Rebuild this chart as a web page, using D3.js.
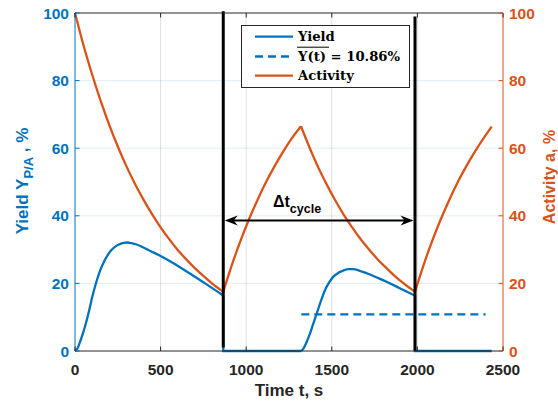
<!DOCTYPE html>
<html><head><meta charset="utf-8">
<script src="https://cdn.jsdelivr.net/npm/d3@7"></script>
<style>body{margin:0;background:#fff}svg{display:block}</style>
</head><body><svg id="c" width="558" height="403"></svg>
<script>
// ---- data ----
const xTicks = [0, 500, 1000, 1500, 2000, 2500];
const yTicks = [0, 20, 40, 60, 80, 100];

const yield1T = [0,15,30,50,68,85,100,115,130,150,170,190,210,235,260,285,305,330,360,400,440,500,560,650,760,866];
const yield1V = [0,0.8,2.8,5.8,9,12.5,15.8,18.7,21.3,24.2,26.5,28.3,29.7,30.9,31.6,32,32.1,31.9,31.5,30.6,29.6,28.1,26.4,23.6,20.0,16.4];
const yieldOff1T = [866, 866, 1322];
const yieldOff1V = [16.4, 0, 0];
const yield2T = [1322,1335,1350,1373,1390,1412,1435,1460,1485,1509,1540,1567,1600,1626,1660,1704,1760,1820,1900,1986];
const yield2V = [0,0.8,2.3,5.2,7.8,11.1,14.6,18,20.3,22,23.2,23.8,24.2,24.2,23.8,23,21.8,20.5,18.5,16.4];
const yieldOff2T = [1986, 1986, 2434];
const yieldOff2V = [16.4, 0, 0];

const meanT = [1322, 2398];
const meanV = [10.86, 10.86];

const actDecay1T = [0,50,100,150,200,250,300,350,400,450,500,550,600,650,700,750,800,866];
const actDecay1V = [100,90.4,81.8,74.0,66.9,60.5,54.7,49.5,44.8,40.5,36.6,33.1,29.9,27.1,24.5,22.2,20.0,17.5];
const actRegen1T = [866,916,966,1016,1066,1116,1166,1216,1266,1320];
const actRegen1V = [17.5,25.4,32.5,38.9,44.7,50.0,54.7,59.0,62.9,66.5];
const actDecay2T = [1320,1370,1420,1470,1520,1570,1620,1670,1720,1770,1820,1870,1920,1986];
const actDecay2V = [66.5,60.2,54.4,49.3,44.6,40.3,36.5,33.0,29.9,27.0,24.5,22.1,20.0,17.5];
const actRegen2T = [1986,2036,2086,2136,2186,2236,2286,2336,2386,2434];
const actRegen2V = [17.5,25.4,32.5,38.9,44.7,50.0,54.7,59.0,62.9,66.4];

const cycleLinesT = [866, 1986];
const cycleLineLo = [1, 0];
const cycleLineHi = [100.5, 99];
const arrowV = 38.6;

const legendLabels = ["Yield", "Y(t) = 10.86%", "Activity"];

// ---- layout ----
const W = 558, H = 403;
const m = {l: 75, r: 55, t: 13, b: 52};
const BLUE = "#0072BD", ORANGE = "#D95319", DARK = "#262626";
const SANS = "Liberation Sans, Arial, sans-serif";
const svg = d3.select("#c");
const x = d3.scaleLinear().domain([0, 2500]).range([m.l, W - m.r]);
const y = d3.scaleLinear().domain([0, 100]).range([H - m.b, m.t]);
const zip = (T, V) => T.map((t, i) => [t, V[i]]);

// grid
svg.append("g").selectAll("line").data(xTicks.slice(1, -1)).join("line")
  .attr("x1", d => x(d)).attr("x2", d => x(d)).attr("y1", y(0)).attr("y2", y(100))
  .attr("stroke", "#262626").attr("stroke-opacity", 0.15).attr("stroke-width", 1);
svg.append("g").selectAll("line").data(yTicks.slice(1, -1)).join("line")
  .attr("x1", x(0)).attr("x2", x(2500)).attr("y1", d => y(d)).attr("y2", d => y(d))
  .attr("stroke", BLUE).attr("stroke-opacity", 0.12).attr("stroke-width", 1);

const curve = d3.line().x(d => x(d[0])).y(d => y(d[1])).curve(d3.curveMonotoneX);
const lin = d3.line().x(d => x(d[0])).y(d => y(d[1]));

// activity
[[actDecay1T, actDecay1V], [actRegen1T, actRegen1V], [actDecay2T, actDecay2V], [actRegen2T, actRegen2V]]
  .forEach(([T, V]) => svg.append("path").attr("d", curve(zip(T, V)))
    .attr("fill", "none").attr("stroke", ORANGE).attr("stroke-width", 2.3));

// yield
[[yield1T, yield1V], [yield2T, yield2V]].forEach(([T, V]) =>
  svg.append("path").attr("d", curve(zip(T, V))).attr("fill", "none")
    .attr("stroke", BLUE).attr("stroke-width", 2.3));
[[yieldOff1T, yieldOff1V], [yieldOff2T, yieldOff2V]].forEach(([T, V]) =>
  svg.append("path").attr("d", lin(zip(T, V))).attr("fill", "none")
    .attr("stroke", BLUE).attr("stroke-width", 2.3));
svg.append("path").attr("d", lin(zip(meanT, meanV))).attr("fill", "none")
  .attr("stroke", BLUE).attr("stroke-width", 2.3).attr("stroke-dasharray", "8,5");

// cycle lines
svg.append("g").selectAll("line").data(cycleLinesT).join("line")
  .attr("x1", d => x(d)).attr("x2", d => x(d))
  .attr("y1", (d, i) => y(cycleLineLo[i])).attr("y2", (d, i) => y(cycleLineHi[i]))
  .attr("stroke", "#000").attr("stroke-width", 3);

// arrow
const ax1 = x(cycleLinesT[0]) + 1.5, ax2 = x(cycleLinesT[1]) - 1.5, ay = y(arrowV);
svg.append("line").attr("x1", ax1 + 4).attr("x2", ax2 - 4).attr("y1", ay).attr("y2", ay)
  .attr("stroke", "#000").attr("stroke-width", 2);
const head = (tx, dir) => `M${tx},${ay} L${tx - dir * 13},${ay - 5} L${tx - dir * 9},${ay} L${tx - dir * 13},${ay + 5} Z`;
svg.append("path").attr("d", head(ax2, 1)).attr("fill", "#000");
svg.append("path").attr("d", head(ax1, -1)).attr("fill", "#000");
const lab = svg.append("text").attr("x", 273).attr("y", 207)
  .attr("font-family", SANS).attr("font-weight", "bold")
  .attr("font-size", 16).attr("fill", "#000");
lab.append("tspan").text("Δt");
lab.append("tspan").attr("font-size", 12.5).attr("dy", 6).text("cycle");

// axes box
svg.append("line").attr("x1", x(0)).attr("x2", x(2500)).attr("y1", y(0)).attr("y2", y(0)).attr("stroke", DARK);
svg.append("line").attr("x1", x(0)).attr("x2", x(2500)).attr("y1", y(100)).attr("y2", y(100)).attr("stroke", DARK);
svg.append("line").attr("x1", x(0)).attr("x2", x(0)).attr("y1", y(0)).attr("y2", y(100)).attr("stroke", BLUE);
svg.append("line").attr("x1", x(2500)).attr("x2", x(2500)).attr("y1", y(0)).attr("y2", y(100)).attr("stroke", ORANGE);

const tl = 4.5;
// x ticks
const gx = svg.append("g");
xTicks.forEach(t => {
  gx.append("line").attr("x1", x(t)).attr("x2", x(t)).attr("y1", y(0)).attr("y2", y(0) - tl).attr("stroke", DARK);
  gx.append("line").attr("x1", x(t)).attr("x2", x(t)).attr("y1", y(100)).attr("y2", y(100) + tl).attr("stroke", DARK);
  gx.append("text").attr("x", x(t)).attr("y", 375).attr("text-anchor", "middle")
    .attr("font-family", SANS).attr("font-weight", "bold")
    .attr("font-size", 15.5).attr("fill", DARK).text(t);
});
// y ticks
yTicks.forEach(v => {
  svg.append("line").attr("x1", x(0)).attr("x2", x(0) + tl).attr("y1", y(v)).attr("y2", y(v)).attr("stroke", BLUE);
  svg.append("line").attr("x1", x(2500)).attr("x2", x(2500) - tl).attr("y1", y(v)).attr("y2", y(v)).attr("stroke", ORANGE);
  svg.append("text").attr("x", x(0) - 6).attr("y", y(v) + 5.5).attr("text-anchor", "end")
    .attr("font-family", SANS).attr("font-weight", "bold")
    .attr("font-size", 15.5).attr("fill", BLUE).text(v);
  svg.append("text").attr("x", x(2500) + 6).attr("y", y(v) + 5.5).attr("text-anchor", "start")
    .attr("font-family", SANS).attr("font-weight", "bold")
    .attr("font-size", 15.5).attr("fill", ORANGE).text(v);
});

// axis titles
svg.append("text").attr("x", (x(0) + x(2500)) / 2).attr("y", 396).attr("text-anchor", "middle")
  .attr("font-family", SANS).attr("font-weight", "bold")
  .attr("font-size", 17).attr("fill", DARK).text("Time t, s");
const yl = svg.append("text").attr("transform", "translate(28,181) rotate(-90)").attr("text-anchor", "middle")
  .attr("font-family", SANS).attr("font-weight", "bold")
  .attr("font-size", 17).attr("fill", BLUE);
yl.append("tspan").text("Yield Y");
yl.append("tspan").attr("font-size", 13).attr("dy", 5).text("P/A");
yl.append("tspan").attr("dy", -5).text(" , %");
svg.append("text").attr("transform", "translate(555,177) rotate(-90)").attr("text-anchor", "middle")
  .attr("font-family", SANS).attr("font-weight", "bold")
  .attr("font-size", 16).attr("fill", ORANGE).text("Activity a, %");

// legend
const lg = svg.append("g");
lg.append("rect").attr("x", 241.5).attr("y", 25.5).attr("width", 168).attr("height", 62)
  .attr("fill", "#fff").attr("stroke", DARK).attr("stroke-width", 1);
const rowsY = [36.7, 56.5, 75.7];
const styles = [{c: BLUE, d: null}, {c: BLUE, d: "8,5"}, {c: ORANGE, d: null}];
legendLabels.forEach((l, i) => {
  const ln = lg.append("line").attr("x1", 255).attr("x2", 293).attr("y1", rowsY[i]).attr("y2", rowsY[i])
    .attr("stroke", styles[i].c).attr("stroke-width", 2.3);
  if (styles[i].d) ln.attr("stroke-dasharray", styles[i].d);
  lg.append("text").attr("x", 298).attr("y", rowsY[i] + 4.5)
    .attr("font-family", "DejaVu Serif, serif").attr("font-weight", "bold")
    .attr("font-size", 13.2).attr("fill", "#000").text(l);
});
// overline on Y(t)
lg.append("line").attr("x1", 297).attr("x2", 329).attr("y1", 47.2).attr("y2", 47.2)
  .attr("stroke", "#000").attr("stroke-width", 1);
</script></body></html>
